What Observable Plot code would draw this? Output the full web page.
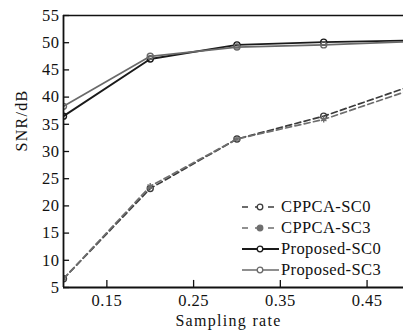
<!DOCTYPE html>
<html><head><meta charset="utf-8">
<script src="https://cdn.jsdelivr.net/npm/d3@7"></script>
<script src="https://cdn.jsdelivr.net/npm/@observablehq/plot@0.6"></script>
<style>
body{margin:0;background:#fff;}
#wrap{position:relative;width:403px;height:335px;font-family:"Liberation Serif","Times New Roman",serif;}
#legend{position:absolute;left:240px;top:196px;font-size:16.5px;line-height:21px;color:#111;}
#legend .row{display:flex;align-items:center;height:21px;}
#legend svg{display:block;margin-right:1px;}
</style></head>
<body><div id="wrap"><div id="chart"></div><div id="legend"></div></div>
<script>
const rates = [0.1, 0.2, 0.3, 0.4, 0.5];
const seriesNames = ["CPPCA-SC0", "CPPCA-SC3", "Proposed-SC0", "Proposed-SC3"];
const cppcaSC0 = [6.6, 23.2, 32.3, 36.5, 42.0];
const cppcaSC3 = [6.6, 23.6, 32.3, 35.9, 41.3];
const proposedSC0 = [36.5, 47.0, 49.6, 50.1, 50.4];
const proposedSC3 = [38.3, 47.5, 49.2, 49.6, 50.2];
const xTicks = [0.15, 0.25, 0.35, 0.45];
const yTicks = [5, 10, 15, 20, 25, 30, 35, 40, 45, 50, 55];

const styles = {
  "CPPCA-SC0": {stroke: "#3c3c3c", dash: "6,3.5", symbol: "circle", fill: "none", w: 1.7},
  "CPPCA-SC3": {stroke: "#6e6e6e", dash: "6,3.5", symbol: "asterisk", fill: "#6e6e6e", w: 1.7},
  "Proposed-SC0": {stroke: "#1a1a1a", dash: null, symbol: "circle", fill: "none", w: 1.9},
  "Proposed-SC3": {stroke: "#6a6a6a", dash: null, symbol: "circle", fill: "none", w: 1.7}
};
const values = [cppcaSC0, cppcaSC3, proposedSC0, proposedSC3];
const xMin = 0.1, xMax = 0.492, yMin = 5, yMax = 55;

const marks = [];
seriesNames.forEach((name, i) => {
  const s = styles[name];
  const data = rates.map((r, j) => ({x: r, y: values[i][j]}));
  marks.push(Plot.line(data, {x: "x", y: "y", stroke: s.stroke, strokeWidth: s.w, strokeDasharray: s.dash, clip: true}));
  marks.push(Plot.dot(data, {x: "x", y: "y", r: 3, symbol: s.symbol, stroke: s.stroke, fill: s.fill, strokeWidth: 1.4, clip: true}));
});
marks.push(Plot.ruleY([yMax], {stroke: "#111", strokeWidth: 1.5}));
marks.push(Plot.ruleY([yMin], {stroke: "#111", strokeWidth: 1.8}));
marks.push(Plot.ruleX([xMin], {stroke: "#111", strokeWidth: 1.8}));
marks.push(Plot.ruleY(yTicks, {x1: xMin, x2: xMin + 0.007, stroke: "#111", strokeWidth: 1.3}));
marks.push(Plot.ruleX(xTicks, {y1: yMin, y2: yMin + 1.3, stroke: "#111", strokeWidth: 1.3}));
marks.push(Plot.axisY(yTicks, {tickSize: 0, tickPadding: 4, fontSize: 16.5, label: null}));
marks.push(Plot.axisX(xTicks, {tickSize: 0, tickPadding: 7, fontSize: 16.5, tickFormat: d3.format(".2f"), label: null}));
marks.push(Plot.text(["SNR/dB"], {frameAnchor: "left", rotate: -90, dx: -42, fontSize: 16, fill: "#111"}));
marks.push(Plot.text(["Sampling rate"], {frameAnchor: "bottom", dy: 38, dx: -5, fontSize: 16, fill: "#111"}));

const chart = Plot.plot({
  width: 403, height: 335,
  marginTop: 15, marginBottom: 48, marginLeft: 63, marginRight: 0,
  x: {domain: [xMin, xMax]},
  y: {domain: [yMin, yMax]},
  style: {fontFamily: '"Liberation Serif","Times New Roman",serif', color: "#111", background: "#fff", overflow: "visible"},
  marks
});
chart.querySelectorAll("text").forEach(t => t.style.letterSpacing = "0.5px");
document.getElementById("chart").append(chart);
chart.querySelectorAll("g[aria-label='text'] text").forEach(t => t.style.letterSpacing = "1.3px");

const legend = document.getElementById("legend");
seriesNames.forEach(name => {
  const s = styles[name];
  const row = document.createElement("div"); row.className = "row";
  const NS = "http://www.w3.org/2000/svg";
  const svg = document.createElementNS(NS, "svg");
  svg.setAttribute("width", 40); svg.setAttribute("height", 12);
  const ln = document.createElementNS(NS, "line");
  ln.setAttribute("x1", 2); ln.setAttribute("x2", 39); ln.setAttribute("y1", 6); ln.setAttribute("y2", 6);
  ln.setAttribute("stroke", s.stroke); ln.setAttribute("stroke-width", s.w);
  if (s.dash) ln.setAttribute("stroke-dasharray", "6,7");
  svg.append(ln);
  const c = document.createElementNS(NS, "circle");
  c.setAttribute("cx", 20); c.setAttribute("cy", 6); c.setAttribute("r", 2.8);
  c.setAttribute("fill", s.symbol === "asterisk" ? s.stroke : "#fff");
  c.setAttribute("stroke", s.stroke); c.setAttribute("stroke-width", 1.3);
  svg.append(c);
  row.append(svg);
  const sp = document.createElement("span"); sp.textContent = name; sp.style.letterSpacing = "0.4px";
  row.append(sp);
  legend.append(row);
});
</script></body></html>
